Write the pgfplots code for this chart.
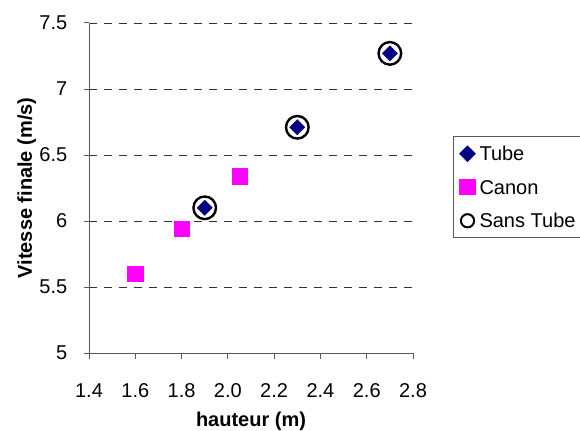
\documentclass[border=0pt]{standalone}
\usepackage{fontspec}
\setmainfont{Liberation Sans}
\usepackage{pgfplots}
\pgfplotsset{compat=1.18}
\definecolor{navyc}{RGB}{0,0,128}
\definecolor{magc}{RGB}{255,0,255}
\pgfplotsset{
  markleg/.style={legend image code/.code={\path[draw=none,fill=none] (0bp,-4bp) rectangle (22bp,4bp); \draw[##1] plot coordinates {(14bp,0bp)};}},
  circleg/.style={legend image code/.code={\path[draw=none,fill=none] (0bp,-4bp) rectangle (22bp,4bp); \draw[##1, mark size=6.6bp, line width=2bp] plot coordinates {(14bp,0bp)};}},
}
\begin{document}
\begin{tikzpicture}[x=1bp,y=1bp]
\path[use as bounding box] (0,0) rectangle (580,430);
\begin{axis}[
  at={(89bp,77bp)}, anchor=south west,
  scale only axis, width=324bp, height=330bp,
  xmin=1.4, xmax=2.8, ymin=5, ymax=7.5,
  xtick={1.4,1.6,1.8,2.0,2.2,2.4,2.6,2.8},
  xticklabels={1.4,1.6,1.8,2.0,2.2,2.4,2.6,2.8},
  ytick={5,5.5,6,6.5,7,7.5},
  yticklabels={5,5.5,6,6.5,7,7.5},
  axis x line*=bottom, axis y line*=left,
  axis line style={black!65, line width=1bp},
  tick style={black!65, line width=1bp},
  tick align=outside, major tick length=5.5bp,
  ymajorgrids,
  grid style={black!80, line width=0.9bp, dash pattern=on 8.3bp off 6.7bp},
  ticklabel style={font=\fontsize{20bp}{24bp}\selectfont, inner sep=0pt},
  xticklabel style={anchor=base, yshift=-39bp},
  yticklabel style={anchor=east, xshift=-16bp},
  xlabel={hauteur (m)},
  ylabel={Vitesse finale (m/s)},
  label style={font=\fontsize{20bp}{24bp}\selectfont\bfseries, inner sep=0pt},
  xlabel style={at={(axis description cs:0.5,-0.224)}, anchor=base},
  ylabel style={at={(axis description cs:-0.176,0.5)}, anchor=base},
  legend style={at={(axis description cs:1.1235,0.3485)}, anchor=south west,
    draw=black!65, line width=1bp, inner sep=0pt, column sep=4bp,
    font=\fontsize{20bp}{24bp}\selectfont,
    nodes={inner sep=0pt, text height=23.95bp, text depth=9.55bp}},
  legend cell align=left,
]
\addplot[only marks, mark=square*, mark size=5.4bp, color=navyc, mark options={rotate=45}, markleg]
  coordinates {(1.9,6.10) (2.3,6.71) (2.7,7.27)};
\addlegendentry{Tube}
\addplot[only marks, mark=square*, mark size=7.6bp, color=magc, markleg]
  coordinates {(1.6,5.60) (1.8,5.94) (2.05,6.34)};
\addlegendentry{Canon}
\addplot[only marks, mark=o, mark size=11.3bp, color=black, line width=2.4bp, circleg]
  coordinates {(1.9,6.10) (2.3,6.71) (2.7,7.27)};
\addlegendentry{Sans Tube\hspace*{12bp}}
\end{axis}
\end{tikzpicture}
\end{document}
